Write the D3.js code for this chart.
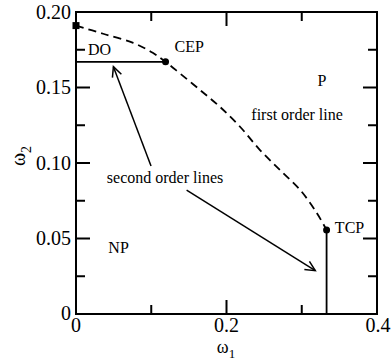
<!DOCTYPE html>
<html>
<head>
<meta charset="utf-8">
<script src="https://cdn.jsdelivr.net/npm/d3@7"></script>
<style>
  html, body { margin: 0; padding: 0; background: #fff; }
</style>
</head>
<body>
<svg id="chart" width="391" height="364"></svg>
<script>
// ---- data ----
const firstOrderX = [0, 0.036, 0.076, 0.102, 0.119, 0.138, 0.165, 0.191, 0.218, 0.2445, 0.271, 0.298, 0.320, 0.333];
const firstOrderY = [0.191, 0.1856, 0.1795, 0.1730, 0.167, 0.1594, 0.1483, 0.1373, 0.124, 0.1086, 0.0954, 0.0821, 0.0669, 0.0556];
const doLineX = [0, 0.119];
const doLineY = [0.167, 0.167];
const tcpLineX = [0.333, 0.333];
const tcpLineY = [0.0556, 0];
const cepPoint = [0.119, 0.167];
const tcpPoint = [0.333, 0.0556];
const startPoint = [0, 0.191];
const xTicks = [0, 0.1, 0.2, 0.3, 0.4];
const xTickLabels = ["0", "", "0.2", "", "0.4"];
const yTicks = [0, 0.025, 0.05, 0.075, 0.1, 0.125, 0.15, 0.175, 0.2];
const yTickLabels = ["0", "", "0.05", "", "0.10", "", "0.15", "", "0.20"];
const regionLabels = ["DO", "CEP", "P", "first order line", "second order lines", "NP", "TCP"];
const regionLabelX = [0.016, 0.131, 0.321, 0.233, 0.041, 0.043, 0.344];
const regionLabelY = [0.1715, 0.1735, 0.1513, 0.1285, 0.0868, 0.0404, 0.0536];
const arrowFromX = [0.0997, 0.147];
const arrowFromY = [0.0980, 0.082];
const arrowToX = [0.0497, 0.318];
const arrowToY = [0.1638, 0.0287];

// ---- layout ----
const svg = d3.select("#chart");
const x = d3.scaleLinear().domain([0, 0.4]).range([76, 377]);
const y = d3.scaleLinear().domain([0, 0.2]).range([314, 12]);
const [x0, x1] = x.range();
const [y0, y1] = y.range();
const serif = '"Liberation Serif"';

// ticks (inward, all four sides)
const tickG = svg.append("g").attr("stroke", "#000").attr("stroke-width", 2);
xTicks.forEach((t, i) => {
  const len = xTickLabels[i] !== "" ? 14 : 9;
  if (t === 0 || t === 0.4) return;
  tickG.append("line").attr("x1", x(t)).attr("x2", x(t)).attr("y1", y0).attr("y2", y0 - len);
  tickG.append("line").attr("x1", x(t)).attr("x2", x(t)).attr("y1", y1).attr("y2", y1 + len);
});
yTicks.forEach((t, i) => {
  const len = yTickLabels[i] !== "" ? 14 : 9;
  if (t === 0 || t === 0.2) return;
  tickG.append("line").attr("y1", y(t)).attr("y2", y(t)).attr("x1", x0).attr("x2", x0 + len);
  tickG.append("line").attr("y1", y(t)).attr("y2", y(t)).attr("x1", x1).attr("x2", x1 - len);
});

// frame
svg.append("rect").attr("x", x0).attr("y", y1).attr("width", x1 - x0).attr("height", y0 - y1)
  .attr("fill", "none").attr("stroke", "#000").attr("stroke-width", 2);

// tick labels
const labG = svg.append("g").style("font-family", serif).style("font-size", "20px").attr("fill", "#000");
xTicks.forEach((t, i) => {
  if (!xTickLabels[i]) return;
  labG.append("text").attr("x", x(t) + (t === 0.4 ? 1 : 0)).attr("y", y0 + 18)
    .attr("text-anchor", "middle").style("font-family", serif).text(xTickLabels[i]);
});
yTicks.forEach((t, i) => {
  if (!yTickLabels[i]) return;
  labG.append("text").attr("x", x0 - 5).attr("y", y(t) + (t === 0 ? 6 : 6.5))
    .attr("text-anchor", "end").style("font-family", serif).text(yTickLabels[i]);
});

// axis titles
const xt = svg.append("text").attr("x", 226).attr("y", 353)
  .style("font-family", serif).style("font-size", "18px").attr("text-anchor", "middle");
xt.append("tspan").text("ω");
xt.append("tspan").style("font-size", "13px").attr("dy", 5).text("1");
const yt = svg.append("text").attr("transform", "translate(25,156) rotate(-90)")
  .style("font-family", serif).style("font-size", "20px").attr("text-anchor", "middle");
yt.append("tspan").text("ω");
yt.append("tspan").style("font-size", "14px").attr("dy", 6).text("2");

// first order (dashed) line
const foData = firstOrderX.map((v, i) => [v, firstOrderY[i]]);
const line = d3.line().x(d => x(d[0])).y(d => y(d[1]));
svg.append("path").datum(foData)
  .attr("d", line.curve(d3.curveCatmullRom.alpha(0.5)))
  .attr("fill", "none").attr("stroke", "#000").attr("stroke-width", 1.8)
  .attr("stroke-dasharray", "8,5");

// second order (solid) lines
const plain = d3.line().x(d => x(d[0])).y(d => y(d[1]));
svg.append("path").datum(doLineX.map((v, i) => [v, doLineY[i]]))
  .attr("d", plain).attr("fill", "none").attr("stroke", "#000").attr("stroke-width", 1.8);
svg.append("path").datum(tcpLineX.map((v, i) => [v, tcpLineY[i]]))
  .attr("d", plain).attr("fill", "none").attr("stroke", "#000").attr("stroke-width", 1.8);

// markers
svg.append("rect").attr("x", x(startPoint[0]) - 3.5).attr("y", y(startPoint[1]) - 3.5)
  .attr("width", 7).attr("height", 7).attr("fill", "#000");
[cepPoint, tcpPoint].forEach(p => {
  svg.append("circle").attr("cx", x(p[0])).attr("cy", y(p[1])).attr("r", 3.5).attr("fill", "#000");
});

// arrows (open heads)
arrowFromX.forEach((fx, i) => {
  const ax = x(fx), ay = y(arrowFromY[i]), bx = x(arrowToX[i]), by = y(arrowToY[i]);
  const ang = Math.atan2(by - ay, bx - ax);
  const g = svg.append("g").attr("stroke", "#000").attr("stroke-width", 1.5).attr("fill", "none");
  g.append("line").attr("x1", ax).attr("y1", ay).attr("x2", bx).attr("y2", by);
  const L = 11, w = 0.45;
  const p = d3.path();
  p.moveTo(bx - L * Math.cos(ang - w), by - L * Math.sin(ang - w));
  p.lineTo(bx, by);
  p.lineTo(bx - L * Math.cos(ang + w), by - L * Math.sin(ang + w));
  g.append("path").attr("d", p.toString());
});

// region labels
regionLabels.forEach((t, i) => {
  svg.append("text").attr("x", x(regionLabelX[i])).attr("y", y(regionLabelY[i]))
    .style("font-family", serif).style("font-size", "16px").attr("fill", "#000").text(t);
});
</script>
</body>
</html>
